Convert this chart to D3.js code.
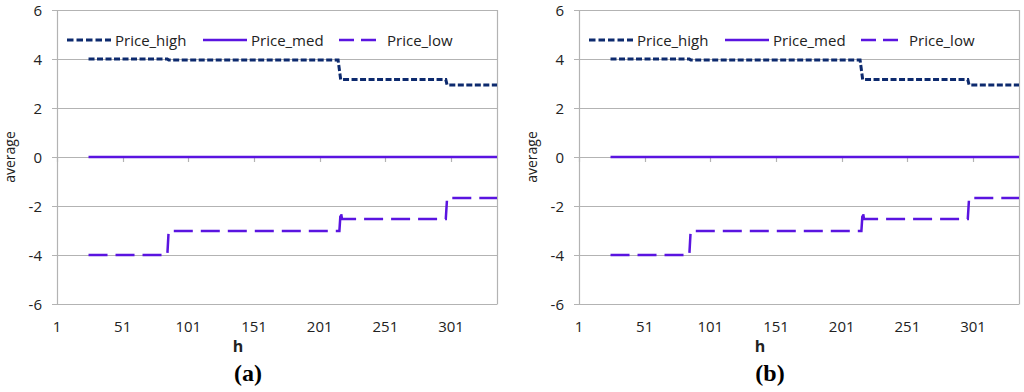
<!DOCTYPE html>
<html>
<head>
<meta charset="utf-8">
<script src="https://cdn.jsdelivr.net/npm/d3@7"></script>
<style>
  body { margin: 0; background: #fff; }
  svg text { font-family: "Open Sans", Lato, sans-serif; fill: #222; }
</style>
</head>
<body>
<div id="wrapper"></div>
<script>
// data (h, value); both panels show the same curves
const priceHigh = [[25, 4], [85, 4], [86, 3.96], [215, 3.96], [217, 3.16], [297, 3.16], [298, 2.94], [336, 2.94]]
const priceMed = [[25, 0], [336, 0]]
const priceLow = [[25, -4], [85, -4], [86, -3.02], [216, -3.02], [217, -2.2], [218, -2.53], [297, -2.53], [298, -1.67], [336, -1.67]]
const xTicks = [1, 51, 101, 151, 201, 251, 301]
const yTicks = [-6, -4, -2, 0, 2, 4, 6]
const panelLabels = ["a", "b"]
const seriesNames = ["Price_high", "Price_med", "Price_low"]

function drawChart() {
  const width = 1024
  const height = 392

  const wrapper = d3.select("#wrapper")
    .append("svg")
      .attr("width", width)
      .attr("height", height)

  const series = [
    {name: seriesNames[0], data: priceHigh, color: "#0d2a6e", dash: "6,2.5", w: 3, legendX: 67},
    {name: seriesNames[1], data: priceMed, color: "#5a14e0", dash: null, w: 2.5, legendX: 203},
    {name: seriesNames[2], data: priceLow, color: "#5a14e0", dash: "19,8", w: 2.5, legendX: 339},
  ]

  const dims = {left: 57, top: 10, w: 440, h: 294}

  panelLabels.forEach((lab, i) => {
    const offset = i * 522
    const g = wrapper.append("g")
      .attr("transform", `translate(${offset}, 0)`)

    const xScale = d3.scaleLinear()
      .domain([1, 336])
      .range([dims.left, dims.left + dims.w])
    const yScale = d3.scaleLinear()
      .domain([-6, 6])
      .range([dims.top + dims.h, dims.top])

    // gridlines
    g.append("g").selectAll("line")
      .data(yTicks)
      .enter().append("line")
        .attr("x1", dims.left - 5)
        .attr("x2", dims.left + dims.w)
        .attr("y1", d => Math.round(yScale(d)) + 0.5)
        .attr("y2", d => Math.round(yScale(d)) + 0.5)
        .attr("stroke", "#b3b3b3")
        .attr("stroke-width", 1.2)

    // plot border (left + right)
    g.append("line")
      .attr("x1", dims.left + 0.5).attr("x2", dims.left + 0.5)
      .attr("y1", dims.top).attr("y2", dims.top + dims.h)
      .attr("stroke", "#b3b3b3").attr("stroke-width", 1.2)
    g.append("line")
      .attr("x1", dims.left + dims.w + 0.5).attr("x2", dims.left + dims.w + 0.5)
      .attr("y1", dims.top).attr("y2", dims.top + dims.h + 0.5)
      .attr("stroke", "#b3b3b3").attr("stroke-width", 1.2)

    // category ticks on the zero line
    g.append("g").selectAll("line")
      .data(xTicks)
      .enter().append("line")
        .attr("x1", d => Math.round(xScale(d)) + 0.5)
        .attr("x2", d => Math.round(xScale(d)) + 0.5)
        .attr("y1", yScale(0))
        .attr("y2", yScale(0) + 5)
        .attr("stroke", "#b3b3b3")
        .attr("stroke-width", 1.2)

    // y tick labels
    g.append("g").selectAll("text")
      .data(yTicks)
      .enter().append("text")
        .attr("x", dims.left - 15)
        .attr("y", d => yScale(d) + 5.5)
        .attr("text-anchor", "end")
        .style("font-size", "15px")
        .text(d => d)

    // x tick labels
    g.append("g").selectAll("text")
      .data(xTicks)
      .enter().append("text")
        .attr("x", d => xScale(d))
        .attr("y", 332)
        .attr("text-anchor", "middle")
        .style("font-size", "15px")
        .text(d => d)

    // axis titles
    g.append("text")
      .attr("x", 238)
      .attr("y", 352)
      .attr("text-anchor", "middle")
      .style("font-size", "16px")
      .style("font-weight", "bold")
      .text("h")

    g.append("text")
      .attr("transform", `translate(15, ${yScale(0)}) rotate(-90)`)
      .attr("text-anchor", "middle")
      .style("font-size", "14px")
      .text("average")

    // lines
    const lineGen = d3.line()
      .x(d => xScale(d[0]))
      .y(d => yScale(d[1]))

    series.forEach(s => {
      g.append("path")
        .datum(s.data)
        .attr("d", lineGen)
        .attr("fill", "none")
        .attr("stroke", s.color)
        .attr("stroke-width", s.w)
        .attr("stroke-dasharray", s.dash)
    })

    // legend
    const legend = g.append("g")
    series.forEach(s => {
      legend.append("line")
        .attr("x1", s.legendX)
        .attr("x2", s.legendX + 44)
        .attr("y1", 40)
        .attr("y2", 40)
        .attr("stroke", s.color)
        .attr("stroke-width", s.w)
        .attr("stroke-dasharray", s.name === "Price_low" ? "15,7" : (s.dash ? "6.5,3" : null))
      legend.append("text")
        .attr("x", s.legendX + 48)
        .attr("y", 45.5)
        .style("font-size", "15px")
        .text(s.name)
    })

    // panel label
    g.append("text")
      .attr("x", 248)
      .attr("y", 381)
      .attr("text-anchor", "middle")
      .style("font-family", "'Liberation Serif', serif")
      .style("font-size", "24px")
      .style("font-weight", "bold")
      .style("fill", "#000")
      .text(`(${lab})`)
  })
}

drawChart()
</script>
</body>
</html>
